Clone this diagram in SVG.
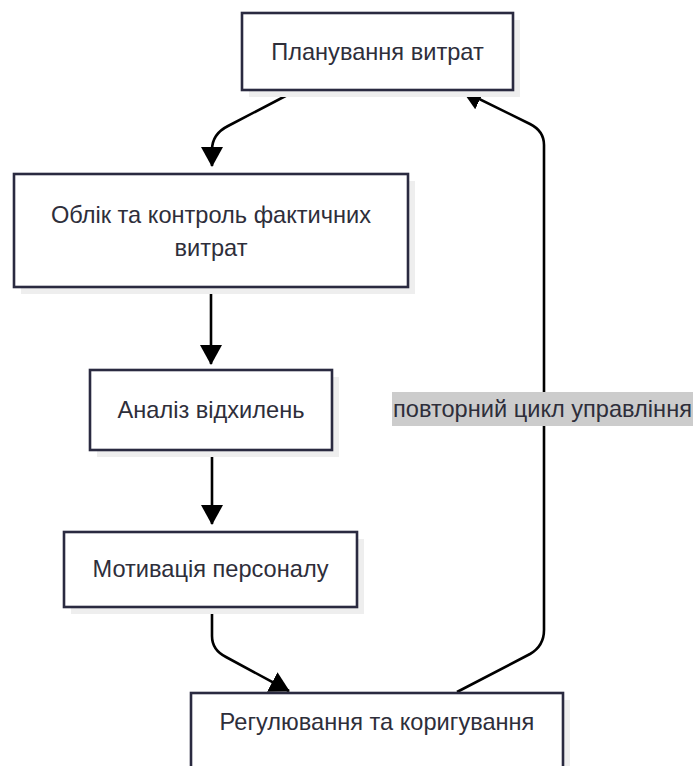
<svg xmlns="http://www.w3.org/2000/svg" width="695" height="766" viewBox="0 0 695 766">
<style>
.shadow{fill:#eeeeee;stroke:none}
.box{fill:#ffffff;stroke:#2a2a40;stroke-width:2.6}
.lbl{font-family:"Liberation Sans",Arial,sans-serif;font-size:23.6px;fill:#2e2e3a;text-anchor:middle}
.edge{fill:none;stroke:#000000;stroke-width:2.6}
.elbl{font-family:"Liberation Sans",Arial,sans-serif;font-size:23.6px;fill:#2e2e3a;text-anchor:middle}
</style>
<defs>
<marker id="arrow" viewBox="0 0 20 22" refX="19" refY="11" markerUnits="userSpaceOnUse" markerWidth="20" markerHeight="22" orient="auto">
<path d="M0,0 L20,11 L0,22 z" fill="#000000"/>
</marker>
</defs>
<rect x="0" y="0" width="695" height="766" fill="#ffffff"/>
<g id="connectors">
<path class="edge" d="M297,90 L228,126 Q212,134 212,150 L212,166" marker-end="url(#arrow)"/>
<path class="edge" d="M211,287 L211,364" marker-end="url(#arrow)"/>
<path class="edge" d="M212,450 L212,524" marker-end="url(#arrow)"/>
<path class="edge" d="M212,607 L212,636 Q212,650 226,657 L289,691" marker-end="url(#arrow)"/>
<path class="edge" d="M457,692 L530,654 Q544,646 544,630 L544,145 Q544,131 530,124 L463,91" marker-end="url(#arrow)"/>
</g>
<g id="edge-label">
<rect x="392" y="392" width="301" height="34" fill="#cccccc"/>
<text class="elbl" x="542.5" y="417">повторний цикл управління</text>
</g>
<g id="node-plan">
<rect class="shadow" x="249" y="20" width="271" height="77"/>
<rect class="box" x="242" y="13" width="271" height="77"/>
<text class="lbl" x="377.5" y="60">Планування витрат</text>
</g>
<g id="node-oblik">
<rect class="shadow" x="21" y="181" width="394" height="113"/>
<rect class="box" x="14" y="174" width="394" height="113"/>
<text class="lbl" x="211" y="223">Облік та контроль фактичних</text>
<text class="lbl" x="211" y="256">витрат</text>
</g>
<g id="node-analiz">
<rect class="shadow" x="97" y="377" width="242" height="80"/>
<rect class="box" x="90" y="370" width="242" height="80"/>
<text class="lbl" x="211" y="418">Аналіз відхилень</text>
</g>
<g id="node-motyvatsiia">
<rect class="shadow" x="71" y="539" width="293" height="75"/>
<rect class="box" x="64" y="532" width="293" height="75"/>
<text class="lbl" x="210.5" y="577">Мотивація персоналу</text>
</g>
<g id="node-rehuliuvannia">
<rect class="shadow" x="198" y="700" width="372" height="76"/>
<rect class="box" x="191" y="693" width="372" height="76"/>
<text class="lbl" x="377" y="730">Регулювання та коригування</text>
</g>
</svg>
